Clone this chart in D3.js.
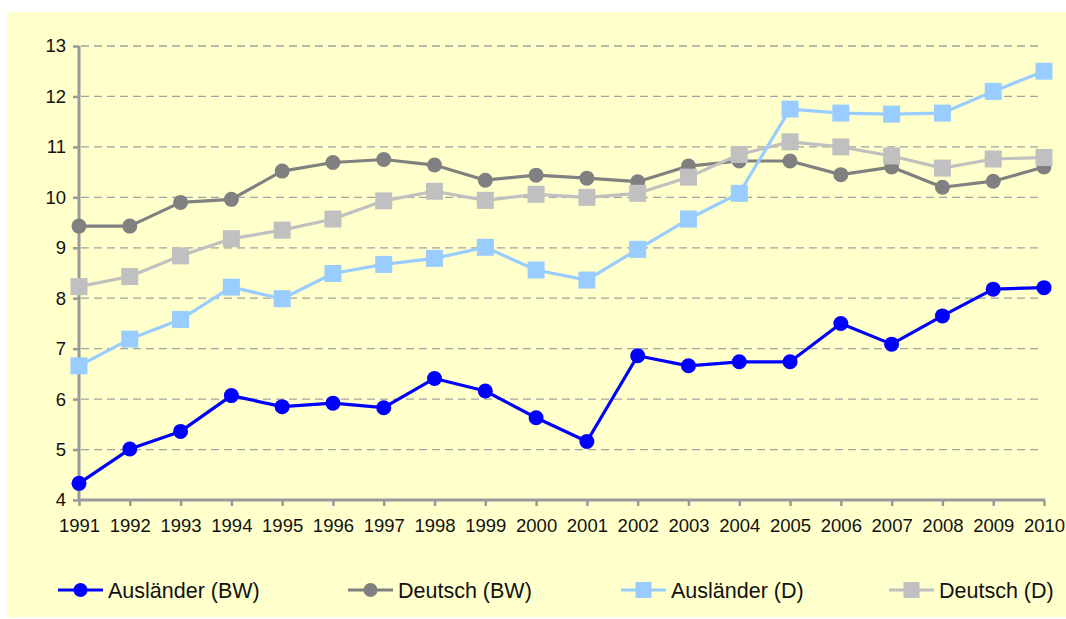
<!DOCTYPE html>
<html>
<head>
<meta charset="utf-8">
<script src="https://cdn.jsdelivr.net/npm/d3@7"></script>
<style>
  body { margin: 0; background: #fff; }
  svg { display: block; font-family: "Liberation Sans", Arial, sans-serif; }
</style>
</head>
<body>
<svg id="chart" width="1066" height="619"></svg>
<script>
// data
var years = [1991, 1992, 1993, 1994, 1995, 1996, 1997, 1998, 1999, 2000,
             2001, 2002, 2003, 2004, 2005, 2006, 2007, 2008, 2009, 2010];
var auslaenderBW = [4.33, 5.01, 5.36, 6.07, 5.85, 5.92, 5.83, 6.41, 6.16, 5.63,
                    5.16, 6.86, 6.66, 6.74, 6.74, 7.50, 7.09, 7.65, 8.18, 8.21];
var deutschBW = [9.43, 9.43, 9.90, 9.96, 10.52, 10.69, 10.75, 10.64, 10.34, 10.44,
                 10.38, 10.31, 10.62, 10.72, 10.72, 10.45, 10.60, 10.20, 10.32, 10.60];
var auslaenderD = [6.66, 7.19, 7.58, 8.22, 7.99, 8.49, 8.67, 8.79, 9.01, 8.56,
                   8.36, 8.97, 9.57, 10.08, 11.75, 11.67, 11.65, 11.67, 12.10, 12.50];
var deutschD = [8.23, 8.43, 8.84, 9.18, 9.35, 9.57, 9.93, 10.12, 9.94, 10.06,
                10.00, 10.08, 10.40, 10.85, 11.10, 11.00, 10.82, 10.58, 10.76, 10.79];
var yTicks = [4, 5, 6, 7, 8, 9, 10, 11, 12, 13];

var series = [
    { name: "Ausländer (BW)", values: auslaenderBW, color: "#0000ff", shape: "circle" },
    { name: "Deutsch (BW)", values: deutschBW, color: "#808080", shape: "circle" },
    { name: "Ausländer (D)", values: auslaenderD, color: "#99ccff", shape: "square" },
    { name: "Deutsch (D)", values: deutschD, color: "#c0c0c0", shape: "square" }
];
// draw order: the squares sit on top of the circles
var drawOrder = [1, 0, 3, 2];

var svg = d3.select("#chart");

svg.append("rect")
    .attr("x", 7).attr("y", 12)
    .attr("width", 1059).attr("height", 605)
    .attr("fill", "#ffffcc");

var x = d3.scalePoint().domain(years).range([79, 1044]);
var y = d3.scaleLinear().domain([4, 13]).range([500, 46]);

// gridlines
svg.append("g")
    .selectAll("line")
    .data(yTicks.slice(1))
    .enter()
    .append("line")
    .attr("x1", 81).attr("x2", 1040)
    .attr("y1", d => y(d)).attr("y2", d => y(d))
    .attr("stroke", "#a3a3a3")
    .attr("stroke-width", 1.3)
    .attr("stroke-dasharray", "8,5");

// axes
var yAxis = svg.append("g")
    .attr("transform", "translate(79,0)")
    .call(d3.axisLeft(y).tickValues(yTicks).tickSize(6).tickPadding(7).tickFormat(d3.format("d")));
var xAxis = svg.append("g")
    .attr("transform", "translate(0,500)")
    .call(d3.axisBottom(x).tickSize(6).tickPadding(13).tickFormat(d3.format("d")));

[yAxis, xAxis].forEach(function (ax) {
    ax.select(".domain").attr("stroke", "#999").attr("stroke-width", 3);
    ax.selectAll(".tick line").attr("stroke", "#999").attr("stroke-width", 2.5);
    ax.selectAll(".tick text")
        .attr("fill", "#111")
        .style("font-size", "18.5px")
        .style("font-family", "'Liberation Sans', Arial, sans-serif");
});
yAxis.select(".domain").attr("d", "M0,500V46");
xAxis.select(".domain").attr("d", "M79,0H1045");

var line = d3.line()
    .x((d, i) => x(years[i]))
    .y(d => y(d));

function drawMarker(g, shape, color, cx, cy, size) {
    if (shape === "circle") {
        g.append("circle")
            .attr("cx", cx).attr("cy", cy).attr("r", size / 2)
            .attr("fill", color);
    } else {
        g.append("rect")
            .attr("x", cx - size / 2).attr("y", cy - size / 2)
            .attr("width", size).attr("height", size)
            .attr("fill", color);
    }
}

drawOrder.forEach(function (k) {
    var s = series[k];
    var g = svg.append("g");
    g.append("path")
        .attr("d", line(s.values))
        .attr("fill", "none")
        .attr("stroke", s.color)
        .attr("stroke-width", 3.2)
        .attr("stroke-linejoin", "round");
    s.values.forEach(function (v, i) {
        drawMarker(g, s.shape, s.color, x(years[i]), y(v), s.shape === "circle" ? 15 : 17);
    });
});

// legend
var legendX = [58, 348, 621, 889];
var legend = svg.append("g");
series.forEach(function (s, i) {
    var g = legend.append("g").attr("transform", `translate(${legendX[i]},590)`);
    g.append("line")
        .attr("x1", 0).attr("x2", 45)
        .attr("stroke", s.color).attr("stroke-width", 3);
    drawMarker(g, s.shape, s.color, 22.5, 0, s.shape === "circle" ? 14 : 16);
    g.append("text")
        .attr("x", 50).attr("y", 0)
        .attr("dy", "0.36em")
        .attr("fill", "#111")
        .style("font-size", "21.5px")
        .text(s.name);
});
</script>
</body>
</html>
